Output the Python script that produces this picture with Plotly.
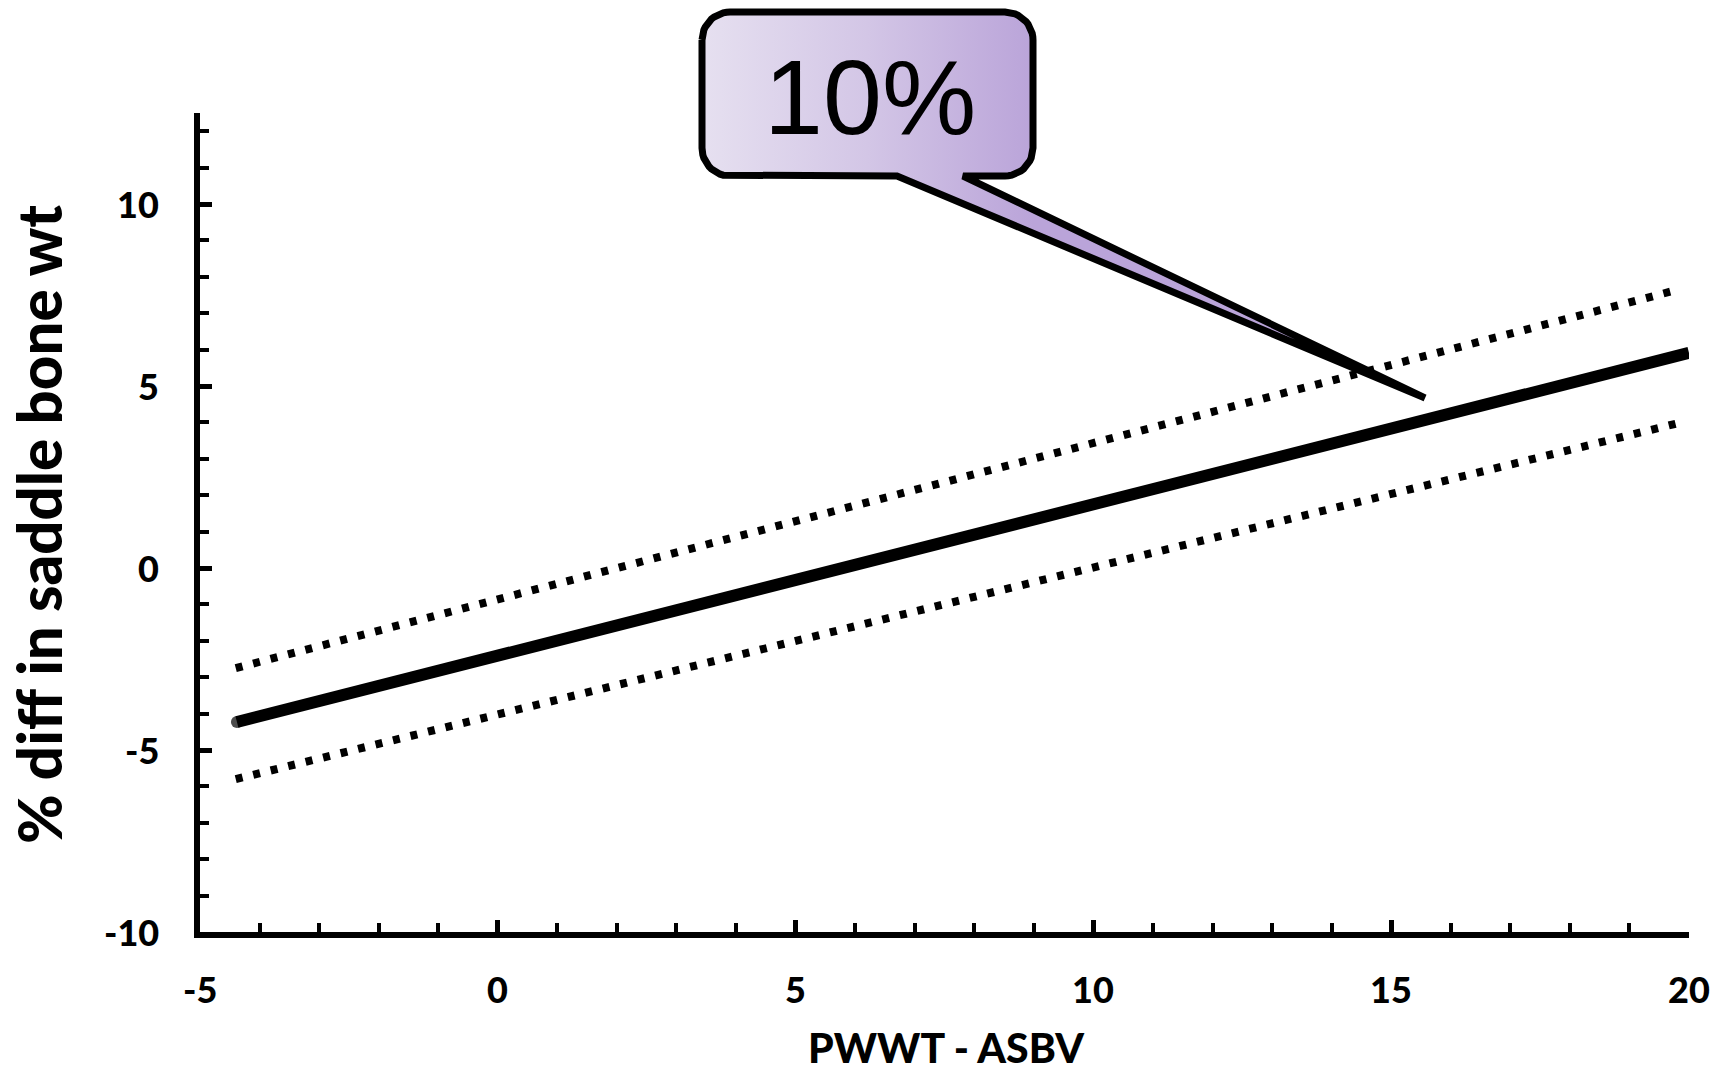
import numpy as np
import plotly.graph_objects as go

W, H = 1714, 1071

# Regression of % difference in saddle bone weight on PWWT - ASBV,
# with its upper and lower limits (end points of each straight line)
fit_x = [-4.38, 20.0]
fit_y = [-4.23, 5.91]
upper_x = [-4.40, 19.73]
upper_y = [-2.75, 7.61]
lower_x = [-4.40, 19.82]
lower_y = [-5.80, 3.98]

x_ticks = [-5, 0, 5, 10, 15, 20]
y_ticks = [-10, -5, 0, 5, 10]
x_title = "PWWT - ASBV"
y_title = "% diff in saddle bone wt"
callout_text = "10%"

# plot area in page pixels
PL, PR, PT, PB = 200, 1689, 113, 932

LABEL_FONT = dict(family="Lato", size=36, color="black", weight=900)

fig = go.Figure()

fig.add_trace(go.Scatter(
    x=upper_x, y=upper_y, mode="lines",
    line=dict(color="black", width=8, dash="7px,11px"),
    hoverinfo="skip", showlegend=False))
fig.add_trace(go.Scatter(
    x=lower_x, y=lower_y, mode="lines",
    line=dict(color="black", width=8, dash="7px,11px"),
    hoverinfo="skip", showlegend=False))
fig.add_trace(go.Scatter(
    x=fit_x, y=fit_y, mode="lines+markers",
    line=dict(color="black", width=12),
    marker=dict(color="black", size=[12, 0], line=dict(width=0)),
    hoverinfo="skip", showlegend=False))


# speech-bubble callout, drawn on a full-page overlay in pixel units
def bubble(x0, y0, x1, y1, r, tail_l, tail_r, tip):
    def arc(cx, cy, a0, a1):
        t = np.linspace(a0, a1, 14)
        return [(cx + r * np.cos(a), cy + r * np.sin(a)) for a in t]
    pts = []
    pts += arc(x0 + r, y0 + r, np.pi, 1.5 * np.pi)
    pts += arc(x1 - r, y0 + r, 1.5 * np.pi, 2 * np.pi)
    pts += arc(x1 - r, y1 - r, 0, 0.5 * np.pi)
    pts += [(tail_r, y1), tip, (tail_l, y1)]
    pts += arc(x0 + r, y1 - r, 0.5 * np.pi, np.pi)
    pts.append(pts[0])
    xs, ys = zip(*pts)
    return list(xs), list(ys)


bx, by = bubble(702, 12, 1033, 176, 28, 897, 963, (1425, 398))
fig.add_trace(go.Scatter(
    x=bx, y=by, xaxis="x2", yaxis="y2", mode="lines",
    fill="toself",
    fillgradient=dict(type="horizontal", start=702, stop=1033,
                      colorscale=[[0, "#e6e0f0"], [0.5, "#d3c6e6"], [1, "#baa4d9"]]),
    line=dict(color="black", width=7),
    hoverinfo="skip", showlegend=False))

axis_common = dict(
    showline=True, linewidth=6, linecolor="black",
    ticks="inside", ticklen=12, tickwidth=5, tickcolor="black",
    showgrid=False, zeroline=False, showticklabels=False,
    automargin=False, fixedrange=True,
)
minor_ticks = dict(dtick=1, tick0=0, ticks="inside", ticklen=9, tickwidth=4,
                   tickcolor="black", showgrid=False)

fig.update_layout(
    width=W, height=H,
    margin=dict(l=0, r=0, t=0, b=0),
    paper_bgcolor="white", plot_bgcolor="rgba(0,0,0,0)",
    showlegend=False,
    xaxis=dict(domain=[PL / W, PR / W], range=[-5, 20],
               tickvals=x_ticks, minor=minor_ticks, **axis_common),
    yaxis=dict(domain=[1 - PB / H, 1 - PT / H], range=[-10, 12.5],
               tickvals=y_ticks, minor=minor_ticks, **axis_common),
    xaxis2=dict(domain=[0, 1], range=[0, W], anchor="y2", visible=False,
                fixedrange=True),
    yaxis2=dict(domain=[0, 1], range=[H, 0], anchor="x2", visible=False,
                fixedrange=True),
)

# tick labels, placed at their axis values
for v in x_ticks:
    fig.add_annotation(
        x=v, xref="x", y=1 - 989 / H, yref="paper", text=str(v),
        showarrow=False, xanchor="center", yanchor="middle", font=LABEL_FONT)
for v in y_ticks:
    fig.add_annotation(
        x=161 / W, xref="paper", y=v, yref="y", text=str(v),
        showarrow=False, xanchor="right", yanchor="middle", font=LABEL_FONT)

fig.add_annotation(
    x=870 / W, y=1 - 97 / H, xref="paper", yref="paper",
    text=callout_text, showarrow=False, xanchor="center", yanchor="middle",
    font=dict(family="Arial, Liberation Sans, sans-serif", size=106, color="black"))

fig.add_annotation(
    x=946 / W, y=1 - 1047 / H, xref="paper", yref="paper",
    text=x_title, showarrow=False, xanchor="center", yanchor="middle",
    font=dict(family="Lato", size=41, color="black", weight=900))

fig.add_annotation(
    x=39 / W, y=1 - 525 / H, xref="paper", yref="paper",
    text=y_title, showarrow=False, xanchor="center", yanchor="middle",
    textangle=-90,
    font=dict(family="Lato", size=60, color="black", weight=900))

fig.write_html("out.html")
